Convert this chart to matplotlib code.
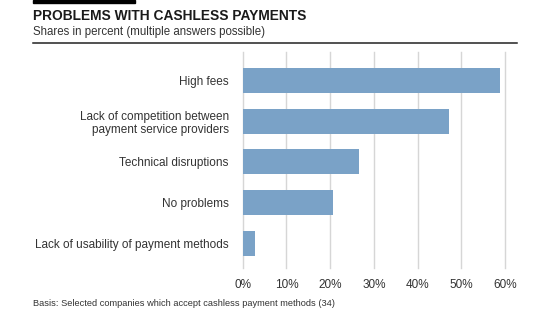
import matplotlib
matplotlib.use("Agg")
import matplotlib.pyplot as plt
from matplotlib.patches import Rectangle
from matplotlib.lines import Line2D

categories = ["High fees",
              "Lack of competition between\npayment service providers",
              "Technical disruptions",
              "No problems",
              "Lack of usability of payment methods"]
values = [58.8, 47.1, 26.5, 20.6, 2.9]
ticks = [0, 10, 20, 30, 40, 50, 60]
tick_labels = ["0%", "10%", "20%", "30%", "40%", "50%", "60%"]

title = "PROBLEMS WITH CASHLESS PAYMENTS"
subtitle = "Shares in percent (multiple answers possible)"
footnote = "Basis: Selected companies which accept cashless payment methods (34)"

W, H = 550, 310
plt.rcParams['font.family'] = ['Liberation Sans', 'DejaVu Sans']
fig = plt.figure(figsize=(W / 100, H / 100), dpi=100)

def fx(px):
    return px / W

def fy(py):
    return 1 - py / H

text_color = "#333333"
bar_color = "#7aa2c7"
grid_color = "#d6d6d6"

ax_left, ax_right, ax_top, ax_bottom = 242.7, 505.0, 52.0, 268.0
ax = fig.add_axes([fx(ax_left), fy(ax_bottom), fx(ax_right - ax_left), (ax_bottom - ax_top) / H])

y = list(range(len(categories)))
ax.barh(y, values, height=0.62, color=bar_color, zorder=3)
ax.set_xlim(0, 60)
ax.set_ylim(4.61, -0.70)
ax.set_xticks(ticks)
ax.set_xticklabels(tick_labels, fontsize=8.5, color=text_color)
ax.set_yticks(y)
ax.set_yticklabels(categories, fontsize=8.5, color=text_color, ha="right", linespacing=1.1)
ax.tick_params(axis="both", length=0)
ax.tick_params(axis="x", pad=8)
ax.tick_params(axis="y", pad=10)
ax.grid(axis="x", color=grid_color, linewidth=1.0, zorder=0)
for gl in ax.get_xgridlines():
    gl.set_clip_on(False)
for s in ax.spines.values():
    s.set_visible(False)

# header decorations
fig.patches.append(Rectangle((fx(32.7), fy(3.4)), fx(135 - 32.7), 3.4 / H,
                             transform=fig.transFigure, color="black", zorder=5))
fig.lines.append(Line2D([fx(33), fx(517)], [fy(42.7), fy(42.7)], transform=fig.transFigure,
                        color="#222222", linewidth=1.1))
fig.text(fx(33), fy(15.8), title, fontsize=9.9, fontweight="bold", color="#1a1a1a",
         va="center", ha="left")
fig.text(fx(33), fy(32.5), subtitle, fontsize=8.3, color=text_color, va="center", ha="left")
fig.text(fx(33), fy(304), footnote, fontsize=6.7, color=text_color, va="center", ha="left")

fig.savefig("out.png", dpi=100)
